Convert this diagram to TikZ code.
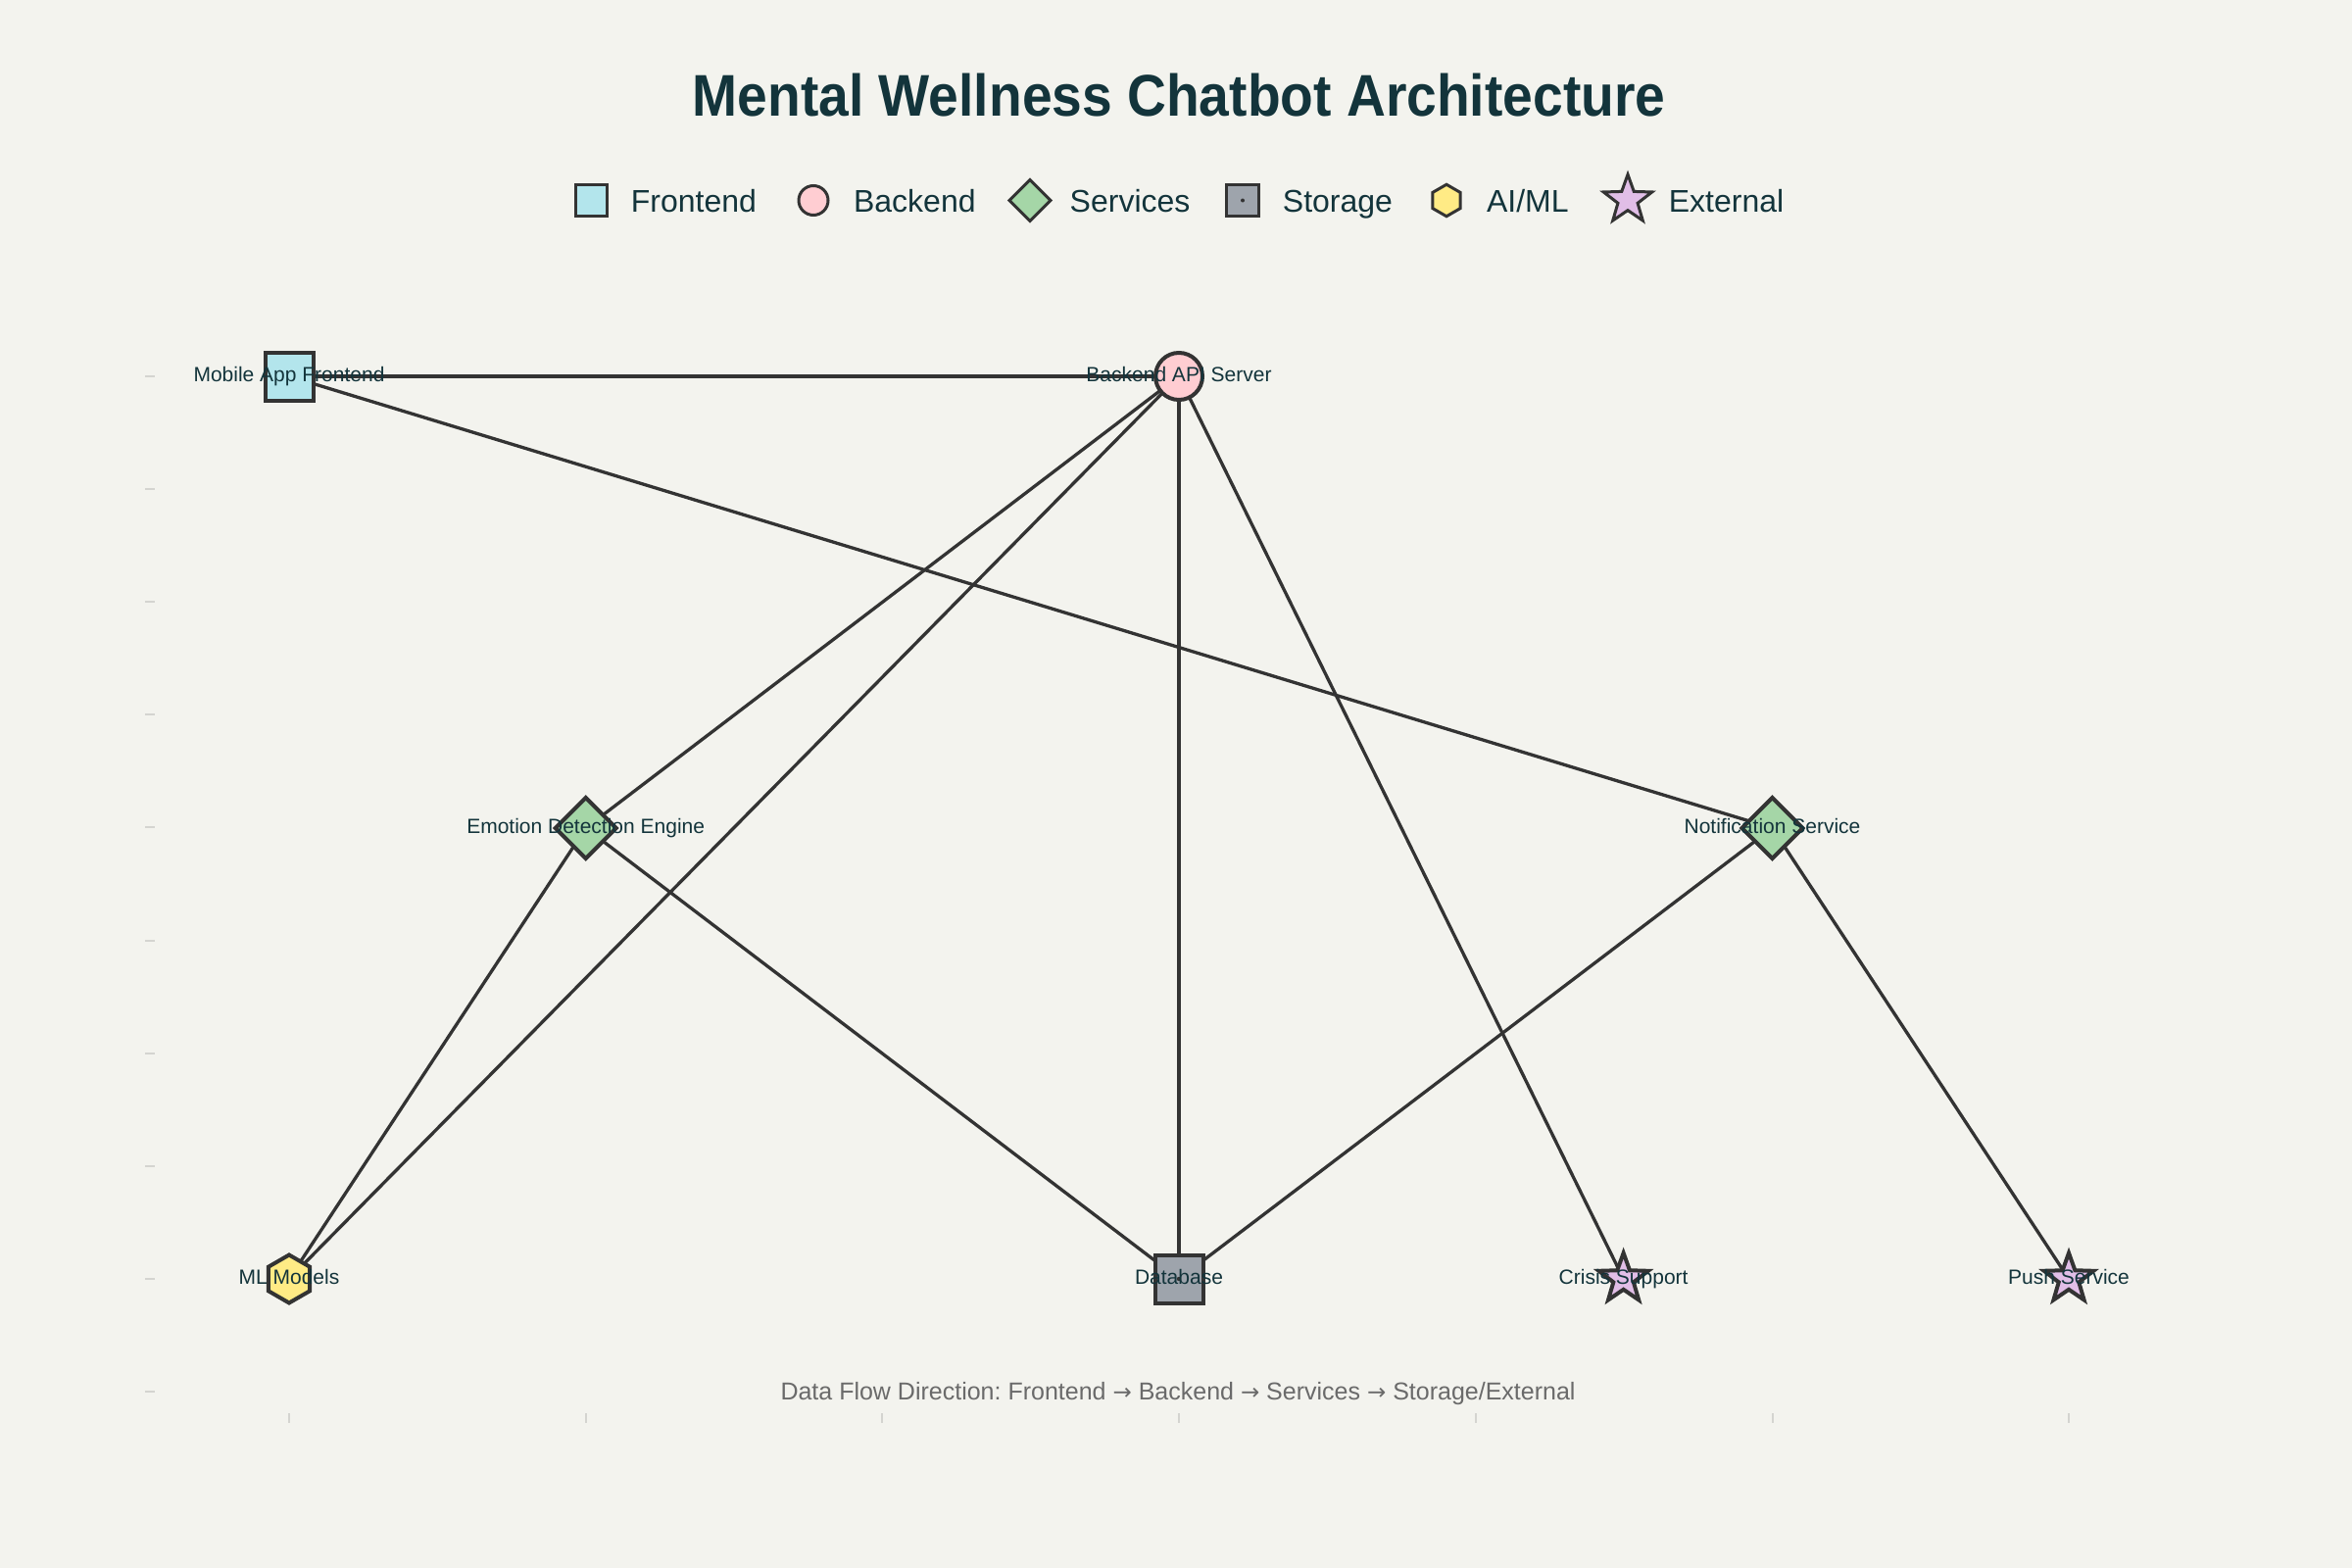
\documentclass[tikz,border=0pt]{standalone}
\usepackage{fontspec}
\setmainfont{Liberation Sans}
\newfontfamily\titlefont[FakeStretch=0.92]{Liberation Sans}
\newfontfamily\arrowfont{DejaVu Sans}
\usetikzlibrary{shapes.geometric}
\definecolor{bgc}{HTML}{F3F3EE}
\definecolor{txt}{HTML}{13343B}
\definecolor{edgec}{HTML}{333333}
\definecolor{cFront}{HTML}{B3E5EC}
\definecolor{cBack}{HTML}{FFCDD2}
\definecolor{cServ}{HTML}{A5D6A7}
\definecolor{cStor}{HTML}{9EA4AC}
\definecolor{cAI}{HTML}{FFEB85}
\definecolor{cExt}{HTML}{E1BEE7}
\definecolor{tickc}{HTML}{D4D4D0}
\definecolor{footc}{HTML}{6A6A6A}
\newcommand{\flowarrow}{{\arrowfont\fontsize{23bp}{27bp}\selectfont →}}
\pgfdeclarelayer{bg}
\pgfdeclarelayer{edges}
\pgfsetlayers{bg,edges,main}
\frenchspacing
\begin{document}
\begin{tikzpicture}[x=1bp,y=-1bp,
  mk/.style={draw=edgec,line width=#1,inner sep=0pt,outer sep=0pt},
  mk/.default=4bp,
  sqmk/.style={mk,rectangle,minimum size=#1},
  cimk/.style={mk,circle,minimum size=#1},
  dimk/.style={mk,diamond,minimum width=#1,minimum height=#1},
  hxmk/.style={mk,regular polygon,regular polygon sides=6,shape border rotate=30,minimum size=#1},
  stmk/.style={mk,star,star points=5,star point ratio=2.45,minimum size=#1},
  lgmk/.style={line width=3bp},
  lbl/.style={text=txt,inner sep=0pt,anchor=base,font=\fontsize{21bp}{25bp}\selectfont},
  leg/.style={text=txt,inner sep=0pt,anchor=base west,font=\fontsize{32bp}{38bp}\selectfont},
  link/.style={draw=edgec,line width=3.3bp},
  tk/.style={draw=tickc,line width=2bp}
]
\begin{pgfonlayer}{bg}
\fill[bgc] (0,0) rectangle (2400,1600);
\end{pgfonlayer}
\useasboundingbox (0,0) rectangle (2400,1600);

% title
\node[text=txt,inner sep=0pt,anchor=base,font=\titlefont\bfseries\fontsize{60bp}{72bp}\selectfont] (title) at (1203,119) {Mental Wellness Chatbot Architecture};

% legend
\node[sqmk=32.5bp,fill=cFront,lgmk] (lgfm) at (603.5,204.5) {};
\node[leg] (lgft) at (643.7,216) {Frontend};
\node[cimk=30bp,fill=cBack,lgmk] (lgbm) at (830,204.5) {};
\node[leg] (lgbt) at (870.9,216) {Backend};
\node[dimk=42bp,fill=cServ,lgmk] (lgsm) at (1051,204.5) {};
\node[leg] (lgst) at (1091.5,216) {Services};
\node[sqmk=32.5bp,fill=cStor,lgmk] (lgdm) at (1268,204.5) {};
\fill[edgec] (lgdm.center) circle (2bp);
\node[leg] (lgdt) at (1308.7,216) {Storage};
\node[hxmk=32.5bp,fill=cAI,lgmk] (lgam) at (1476,204.5) {};
\node[leg] (lgat) at (1516.8,216) {AI/ML};
\node[stmk=52bp,fill=cExt,lgmk] (lgem) at (1661,204) {};
\node[leg] (lget) at (1702.6,216) {External};

% axis ticks
\foreach \k in {0,...,9}{
  \draw[tk] (148,{384+115.1*\k}) -- (158,{384+115.1*\k});
}
\foreach \k in {0,...,6}{
  \draw[tk] ({295+302.7*\k},1442) -- ({295+302.7*\k},1452);
}

% nodes (markers)
\node[sqmk=49bp,fill=cFront] (mob) at (295,384) {};
\node[cimk=48bp,fill=cBack] (back) at (1203,384) {};
\node[dimk=62bp,fill=cServ] (emo) at (597.7,845) {};
\node[dimk=62bp,fill=cServ] (notif) at (1808.5,845) {};
\node[hxmk=49bp,fill=cAI] (ml) at (295,1305) {};
\node[sqmk=49bp,fill=cStor] (db) at (1203,1305) {};
\fill[edgec] (db.center) circle (2.2bp);
\node[stmk=53bp,fill=cExt] (crisis) at (1656.6,1305) {};
\node[stmk=53bp,fill=cExt] (push) at (2111,1305) {};

% edges
\begin{pgfonlayer}{edges}
\draw[link] (mob.center) -- (back.center);
\draw[link] (mob.center) -- (notif.center);
\draw[link] (back.center) -- (emo.center);
\draw[link] (back.center) -- (ml.center);
\draw[link] (back.center) -- (db.center);
\draw[link] (back.center) -- (crisis.center);
\draw[link] (emo.center) -- (ml.center);
\draw[link] (emo.center) -- (db.center);
\draw[link] (notif.center) -- (db.center);
\draw[link] (notif.center) -- (push.center);
\end{pgfonlayer}

% labels
\node[lbl] (tmob) at (295,389) {Mobile App Frontend};
\node[lbl] (tback) at (1203,389) {Backend API Server};
\node[lbl] (temo) at (597.7,850) {Emotion Detection Engine};
\node[lbl] (tnotif) at (1808.5,850) {Notification Service};
\node[lbl] (tml) at (295,1310) {ML Models};
\node[lbl] (tdb) at (1203,1310) {Database};
\node[lbl] (tcrisis) at (1656.6,1310) {Crisis Support};
\node[lbl] (tpush) at (2111,1310) {Push Service};

% footnote
\node[text=footc,inner sep=0pt,anchor=base,font=\fontsize{25bp}{30bp}\selectfont] (foot) at (1202,1428) {Data Flow Direction: Frontend \flowarrow{} Backend \flowarrow{} Services \flowarrow{} Storage/External};
\end{tikzpicture}
\end{document}
